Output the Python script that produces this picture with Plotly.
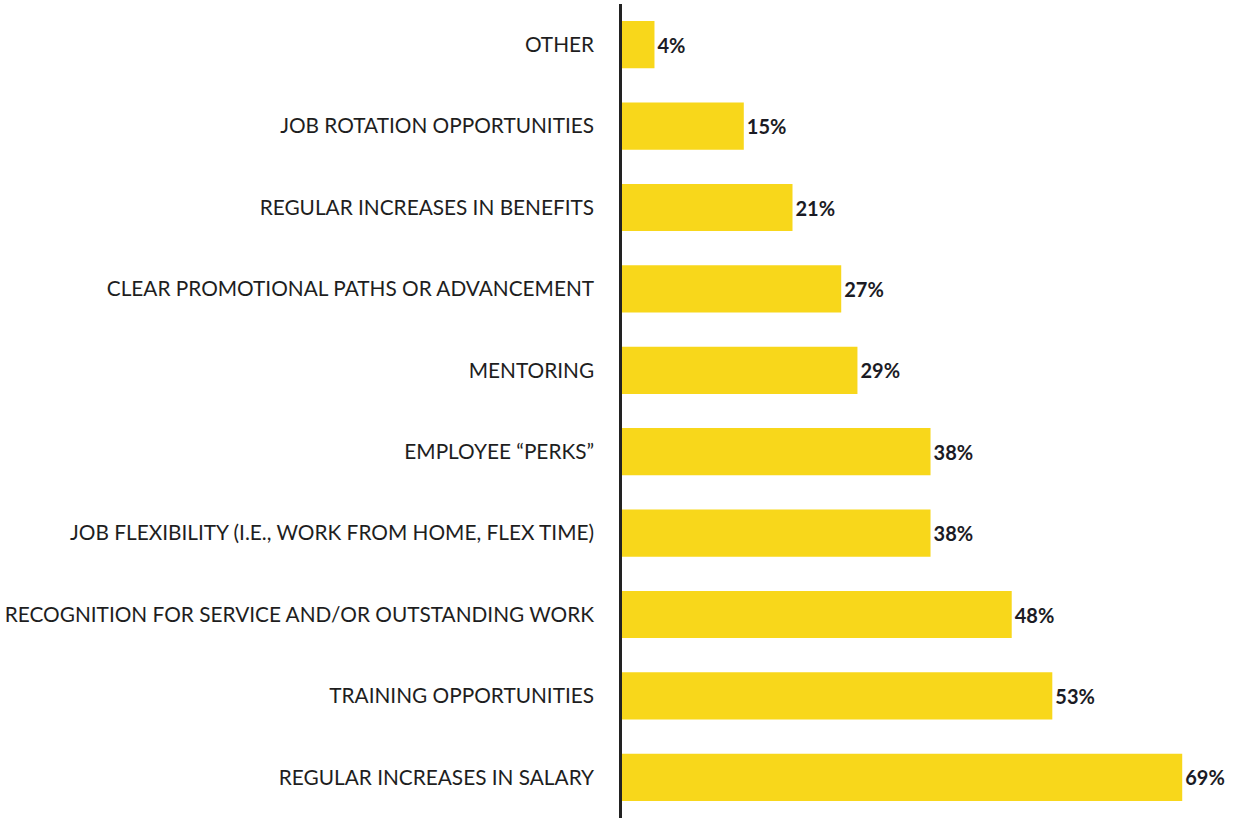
import plotly.graph_objects as go

# Survey responses, listed bottom to top as drawn
categories = [
    "REGULAR INCREASES IN SALARY",
    "TRAINING OPPORTUNITIES",
    "RECOGNITION FOR SERVICE AND/OR OUTSTANDING WORK",
    "JOB FLEXIBILITY (I.E., WORK FROM HOME, FLEX TIME)",
    "EMPLOYEE \u201cPERKS\u201d",
    "MENTORING",
    "CLEAR PROMOTIONAL PATHS OR ADVANCEMENT",
    "REGULAR INCREASES IN BENEFITS",
    "JOB ROTATION OPPORTUNITIES",
    "OTHER",
]
percentages = [69, 53, 48, 38, 38, 29, 27, 21, 15, 4]
value_labels = [f"{v}%" for v in percentages]

fig = go.Figure(
    go.Bar(
        x=percentages,
        y=categories,
        orientation="h",
        marker=dict(color="#F8D71B", line=dict(width=0)),
        width=0.58,
        text=value_labels,
        textposition="outside",
        cliponaxis=False,
        textfont=dict(family="Lato", size=20, color="#1b1b24", weight="bold"),
        hoverinfo="skip",
    )
)

fig.update_layout(
    width=1237,
    height=821,
    margin=dict(l=622, r=15, t=4, b=3),
    paper_bgcolor="white",
    plot_bgcolor="white",
    showlegend=False,
    xaxis=dict(
        range=[0, 73.9],
        visible=False,
        fixedrange=True,
    ),
    yaxis=dict(
        type="category",
        range=[-0.5, 9.5],
        showgrid=False,
        zeroline=False,
        showline=True,
        linecolor="#222222",
        linewidth=2.5,
        ticks="",
        ticklabelstandoff=21,
        tickfont=dict(family="Lato", size=20.8, color="#1e1e1e"),
    ),
)

fig.write_html("out.html")
